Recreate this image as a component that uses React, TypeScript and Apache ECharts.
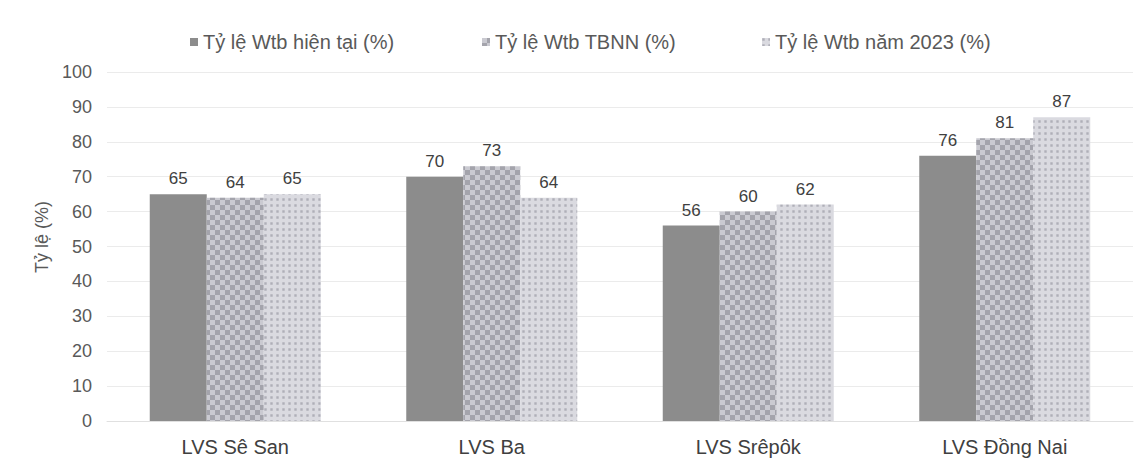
import React, { useEffect, useRef } from "react";
import * as echarts from "echarts";

const categories = ["LVS Sê San", "LVS Ba", "LVS Srêpôk", "LVS Đồng Nai"];
const seriesNames = ["Tỷ lệ Wtb hiện tại (%)", "Tỷ lệ Wtb TBNN (%)", "Tỷ lệ Wtb năm 2023 (%)"];
const currentValues = [65, 70, 56, 76];
const normalValues = [64, 73, 60, 81];
const year2023Values = [65, 64, 62, 87];
const yTicks = { min: 0, max: 100, interval: 10 };
const yAxisName = "Tỷ lệ (%)";

const FONT = "Liberation Sans, Arial, sans-serif";
const legendLefts = [185, 477, 757];

export default function App() {
  const ref = useRef<HTMLDivElement>(null);
  useEffect(() => {
    if (!ref.current) return;
    const chart = echarts.init(ref.current, undefined, { renderer: "svg" });
    const label = {
      show: true,
      position: "top",
      distance: 7,
      color: "#404040",
      fontSize: 17,
      fontFamily: FONT,
    };
    chart.setOption({
      animation: false,
      backgroundColor: "#ffffff",
      textStyle: { fontFamily: FONT },
      legend: seriesNames.map((n, i) => ({
        top: 27,
        left: legendLefts[i],
        itemWidth: 8,
        itemHeight: 8,
        itemGap: 0,
        icon: "rect",
        textStyle: { color: "#595959", fontSize: 20, fontFamily: FONT },
        data: [n],
      })),
      graphic: [
        {
          type: "text",
          x: 42,
          y: 237,
          rotation: Math.PI / 2,
          style: {
            text: yAxisName,
            fill: "#595959",
            fontSize: 18,
            fontFamily: FONT,
            textAlign: "center",
            textVerticalAlign: "middle",
          },
        },
      ],
      grid: { left: 107, right: 13, top: 72, bottom: 52 },
      xAxis: {
        type: "category",
        data: categories,
        axisTick: { show: false },
        axisLine: { lineStyle: { color: "#e0e0e0" } },
        axisLabel: { color: "#404040", fontSize: 20, margin: 16, fontFamily: FONT },
      },
      yAxis: {
        type: "value",
        min: yTicks.min,
        max: yTicks.max,
        interval: yTicks.interval,
        axisLine: { show: false },
        axisTick: { show: false },
        axisLabel: { color: "#595959", fontSize: 18, margin: 15, fontFamily: FONT },
        splitLine: { lineStyle: { color: "#ebebeb", width: 1 } },
      },
      series: [
        {
          name: seriesNames[0],
          type: "bar",
          data: currentValues,
          barWidth: 57,
          barGap: "0%",
          itemStyle: { color: "#8c8c8c" },
          label,
        },
        {
          name: seriesNames[1],
          type: "bar",
          data: normalValues,
          barWidth: 57,
          barGap: "0%",
          itemStyle: {
            color: "#cacad1",
            decal: {
              symbol: "rect",
              symbolSize: 1,
              color: "rgba(125,125,135,0.5)",
              dashArrayX: [[5, 5], [0, 5, 5, 0]],
              dashArrayY: [5, 0],
              rotation: 0,
            },
          },
          label,
        },
        {
          name: seriesNames[2],
          type: "bar",
          data: year2023Values,
          barWidth: 57,
          barGap: "0%",
          itemStyle: {
            color: "#dadae0",
            decal: {
              symbol: "rect",
              symbolSize: 0.8,
              color: "rgba(140,140,150,0.55)",
              dashArrayX: [3, 3],
              dashArrayY: [3, 3],
              rotation: 0,
            },
          },
          label,
        },
      ],
    });
    return () => chart.dispose();
  }, []);
  return (
    <div
      ref={ref}
      style={{ position: "fixed", left: 0, top: 0, width: 1146, height: 473 }}
    />
  );
}
